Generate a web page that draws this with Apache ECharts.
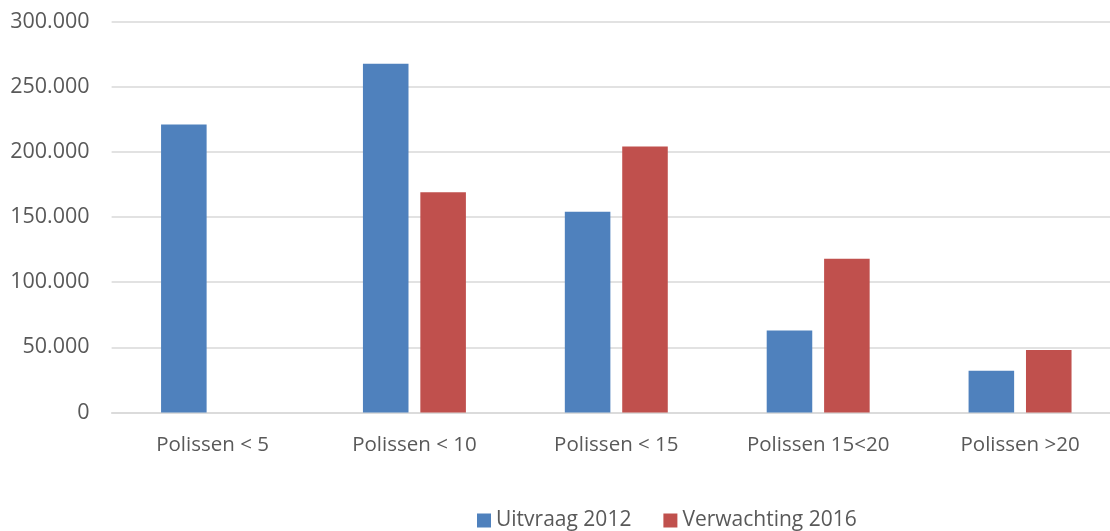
<!DOCTYPE html>
<html>
<head>
<meta charset="utf-8">
<script src="https://cdn.jsdelivr.net/npm/echarts@6/dist/echarts.min.js"></script>
<style>
html,body{margin:0;padding:0;background:#fff;overflow:hidden;width:1110px;height:531px;}
#c{width:1121px;height:531px;}
</style>
</head>
<body>
<div id="c"></div>
<script>
const categories = ["Polissen < 5", "Polissen < 10", "Polissen < 15", "Polissen 15<20", "Polissen >20"];
const seriesNames = ["Uitvraag 2012", "Verwachting 2016"];
const uitvraag2012 = [221000, 267500, 154000, 63000, 32000];
const verwachting2016 = [null, 169000, 204000, 118000, 48000];

const chart = echarts.init(document.getElementById('c'), null, {renderer: 'canvas'});
const font = '"Open Sans", "Liberation Sans", sans-serif';
chart.setOption({
  animation: false,
  backgroundColor: '#ffffff',
  textStyle: {fontFamily: font},
  grid: {left: 111.6, right: 0, top: 21.5, bottom: 118.5, containLabel: false},
  legend: {
    data: seriesNames,
    left: 472, top: 505,
    itemWidth: 14, itemHeight: 14, itemGap: 32,
    icon: 'rect',
    textStyle: {color: '#595959', fontSize: 21, fontFamily: font}
  },
  xAxis: {
    type: 'category',
    data: categories,
    axisLine: {show: true, lineStyle: {color: '#D9D9D9', width: 1.5}},
    axisTick: {show: false},
    axisLabel: {color: '#595959', fontSize: 20.5, margin: 22, fontFamily: font}
  },
  yAxis: {
    type: 'value',
    min: 0, max: 300000, interval: 50000,
    axisLine: {show: false},
    axisTick: {show: false},
    splitLine: {lineStyle: {color: '#D9D9D9', width: 1.5}},
    axisLabel: {
      color: '#595959', fontSize: 21.5, margin: 22, fontFamily: font,
      formatter: v => v === 0 ? '0' : (v/1000).toFixed(0) + '.000'
    }
  },
  series: [
    {name: seriesNames[0], type: 'bar', data: uitvraag2012, itemStyle: {color: '#4F81BD'}, barGap: '26%', barCategoryGap: '49%'},
    {name: seriesNames[1], type: 'bar', data: verwachting2016, itemStyle: {color: '#C0504D'}, barGap: '26%', barCategoryGap: '49%'}
  ]
});
</script>
</body>
</html>
